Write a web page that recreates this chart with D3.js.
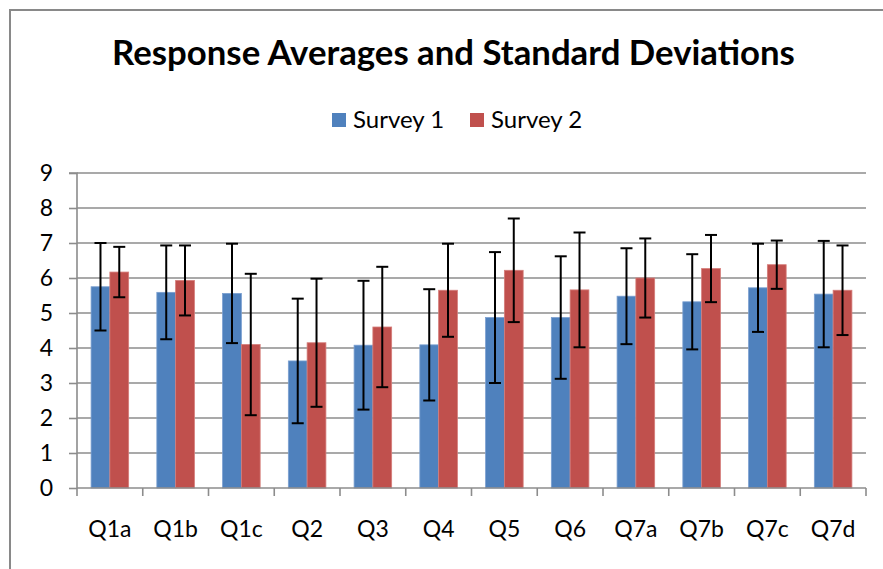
<!DOCTYPE html>
<html>
<head>
<meta charset="utf-8">
<script src="https://cdn.jsdelivr.net/npm/d3@7"></script>
<style>
  html, body { margin: 0; padding: 0; background: #fff; }
  svg { display: block; }
  text { font-family: Lato, "Open Sans", sans-serif; }
</style>
</head>
<body>
<svg id="chart" width="883" height="569"></svg>
<script>
const categories = ["Q1a","Q1b","Q1c","Q2","Q3","Q4","Q5","Q6","Q7a","Q7b","Q7c","Q7d"];
const seriesNames = ["Survey 1", "Survey 2"];
const survey1 = [5.75, 5.59, 5.56, 3.63, 4.08, 4.09, 4.87, 4.87, 5.48, 5.32, 5.72, 5.54];
const survey2 = [6.17, 5.93, 4.10, 4.15, 4.60, 5.65, 6.22, 5.66, 6.00, 6.27, 6.38, 5.65];
const sd1 = [1.25, 1.34, 1.42, 1.78, 1.84, 1.59, 1.87, 1.75, 1.37, 1.36, 1.26, 1.52];
const sd2 = [0.72, 1.00, 2.02, 1.83, 1.72, 1.33, 1.48, 1.64, 1.13, 0.96, 0.69, 1.28];
const yTicks = [0,1,2,3,4,5,6,7,8,9];
const colors = ["#4F81BD", "#C0504D"];
const title = "Response Averages and Standard Deviations";

const svg = d3.select("#chart");
const margin = {left: 77, right: 17, top: 173, bottom: 81};
const W = 883, H = 569;
const plotW = W - margin.left - margin.right;
const plotH = H - margin.top - margin.bottom;

// outer chart border
svg.append("rect").attr("x", 10).attr("y", 10).attr("width", 900).attr("height", 600)
  .attr("fill", "none").attr("stroke", "#898989").attr("stroke-width", 2);

const x = d3.scaleBand().domain(categories).range([margin.left, margin.left + plotW]).paddingInner(0).paddingOuter(0);
const y = d3.scaleLinear().domain([0, 9]).range([margin.top + plotH, margin.top]);
const barW = x.bandwidth() / 3.5;
const xs = d3.scaleBand().domain(seriesNames).range([0, barW * 2]);

// gridlines
svg.append("g").selectAll("line").data(yTicks.filter(d => d > 0)).join("line")
  .attr("x1", margin.left).attr("x2", margin.left + plotW)
  .attr("y1", d => y(d)).attr("y2", d => y(d))
  .attr("stroke", "#8c8c8c").attr("stroke-width", 1.6);

// bars
const series = [survey1, survey2];
const sds = [sd1, sd2];
series.forEach((vals, si) => {
  const g = svg.append("g");
  g.selectAll("rect").data(vals).join("rect")
    .attr("x", (d, i) => x(categories[i]) + (x.bandwidth() - 2 * barW) / 2 + xs(seriesNames[si]))
    .attr("y", d => y(d))
    .attr("width", barW)
    .attr("height", d => y(0) - y(d))
    .attr("fill", colors[si])
    .attr("stroke", si === 0 ? "#7a9fd0" : "#d57d7a").attr("stroke-width", 0.8);
});

// error bars
series.forEach((vals, si) => {
  const g = svg.append("g").attr("stroke", "#000").attr("stroke-width", 2);
  vals.forEach((v, i) => {
    const cx = x(categories[i]) + (x.bandwidth() - 2 * barW) / 2 + xs(seriesNames[si]) + barW / 2;
    const lo = v - sds[si][i], hi = v + sds[si][i];
    g.append("line").attr("x1", cx).attr("x2", cx).attr("y1", y(lo)).attr("y2", y(hi));
    g.append("line").attr("x1", cx - 6).attr("x2", cx + 6).attr("y1", y(lo)).attr("y2", y(lo));
    g.append("line").attr("x1", cx - 6).attr("x2", cx + 6).attr("y1", y(hi)).attr("y2", y(hi));
  });
});

// y axis
const yAxis = d3.axisLeft(y).tickValues(yTicks).tickSize(8).tickPadding(16).tickFormat(d3.format("d"));
const yg = svg.append("g").attr("transform", `translate(${margin.left},0)`).call(yAxis);
yg.select(".domain").attr("stroke", "#8c8c8c").attr("stroke-width", 1.6).attr("d", `M-8,${y(9)}H0V${y(0)}`);
yg.selectAll(".tick line").attr("stroke", "#8c8c8c").attr("stroke-width", 1.6);
yg.selectAll(".tick text").attr("font-size", 23).attr("fill", "#000").attr("font-family", "Lato, sans-serif");

// x axis
const xAxis = d3.axisBottom(x).tickSize(0).tickPadding(33);
const xg = svg.append("g").attr("transform", `translate(0,${y(0)})`).call(xAxis);
xg.select(".domain").attr("stroke", "#8c8c8c").attr("stroke-width", 1.6).attr("d", `M${margin.left},0H${margin.left + plotW}`);
xg.selectAll(".tick text").attr("font-size", 23).attr("fill", "#000").attr("font-family", "Lato, sans-serif");
// category boundary ticks
const bounds = categories.map(c => x(c)).concat([margin.left + plotW]);
xg.selectAll("line.bound").data(bounds).join("line").attr("class", "bound")
  .attr("x1", d => d).attr("x2", d => d).attr("y1", 0).attr("y2", 8)
  .attr("stroke", "#8c8c8c").attr("stroke-width", 1.6);

// title
const t = svg.append("text").attr("x", 453.5).attr("y", 65).attr("text-anchor", "middle")
  .attr("font-weight", "bold").attr("font-size", 30).attr("fill", "#000").text(title);
const tw = t.node().getComputedTextLength();
t.attr("font-size", 30 * 683 / tw);

// legend
const legend = svg.append("g");
const legX = [332, 470];
seriesNames.forEach((n, i) => {
  legend.append("rect").attr("x", legX[i]).attr("y", 113).attr("width", 14).attr("height", 14).attr("fill", colors[i]);
  legend.append("text").attr("x", legX[i] + 21).attr("y", 127.5).attr("font-size", 24).attr("fill", "#000").text(n);
});
</script>
</body>
</html>
